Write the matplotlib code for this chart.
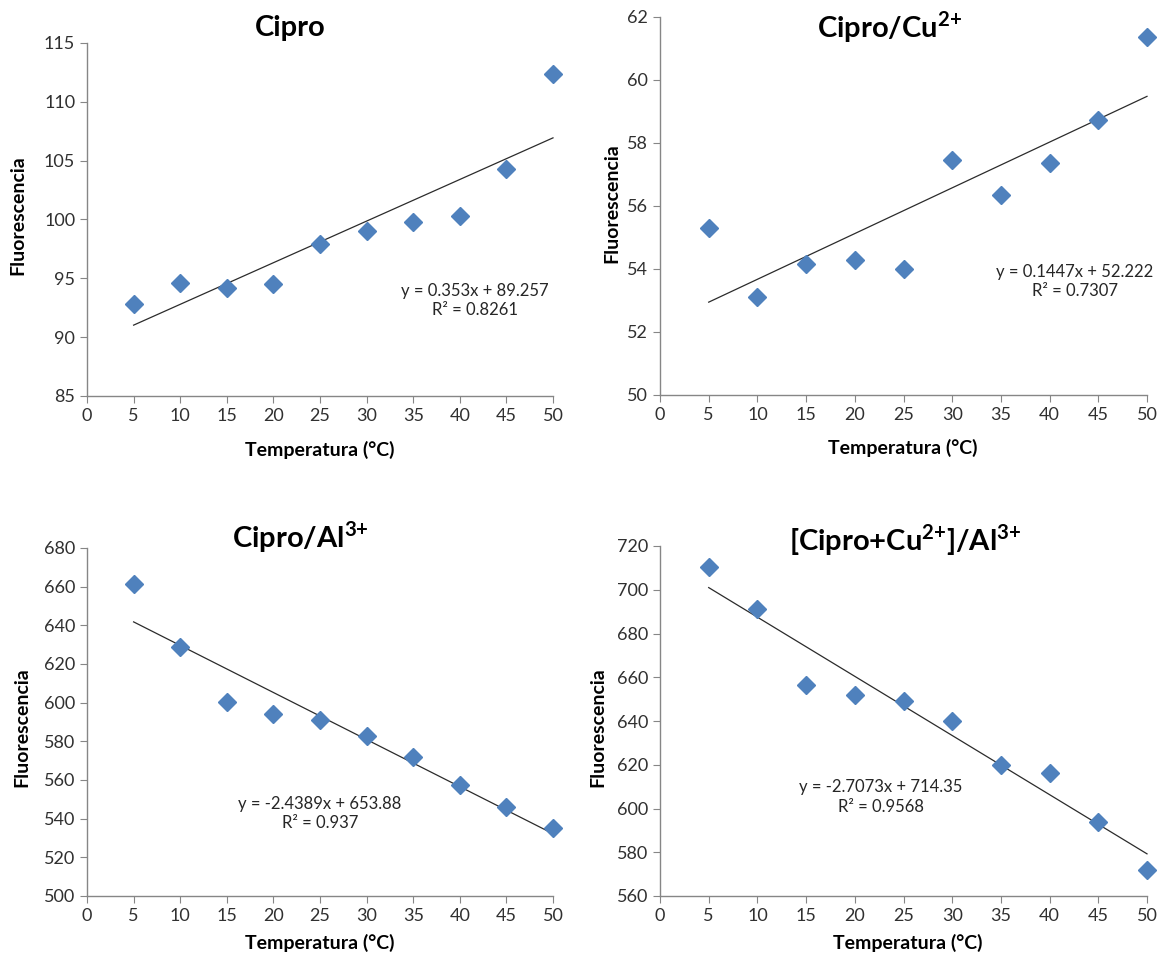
import matplotlib
matplotlib.use("Agg")
import matplotlib.pyplot as plt
import numpy as np

plt.rcParams['font.family'] = ['Lato', 'DejaVu Sans']
plt.rcParams['mathtext.fontset'] = 'custom'
plt.rcParams['mathtext.rm'] = 'Lato'
plt.rcParams['mathtext.bf'] = 'Lato:bold'

# temperature (°C)
temp = [5, 10, 15, 20, 25, 30, 35, 40, 45, 50]

# fluorescence for each sample
cipro = [92.8, 94.6, 94.2, 94.5, 97.9, 99.0, 99.8, 100.3, 104.3, 112.4]
cipro_cu = [55.3, 53.1, 54.15, 54.3, 54.0, 57.47, 56.35, 57.37, 58.72, 61.38]
cipro_al = [661.5, 629.0, 600.5, 594.3, 591.2, 583.0, 571.8, 557.5, 546.2, 535.0]
cipro_cu_al = [710.5, 691.0, 656.5, 652.0, 649.0, 640.0, 620.0, 616.3, 594.0, 572.0]

titles = ["Cipro", r"Cipro/Cu$^{\mathbf{2{+}}}$", r"Cipro/Al$^{\mathbf{3{+}}}$",
          r"[Cipro+Cu$^{\mathbf{2{+}}}$]/Al$^{\mathbf{3{+}}}$"]
equations = ["y = 0.353x + 89.257\nR² = 0.8261",
             "y = 0.1447x + 52.222\nR² = 0.7307",
             "y = -2.4389x + 653.88\nR² = 0.937",
             "y = -2.7073x + 714.35\nR² = 0.9568"]
y_ranges = [(85, 115, 5), (50, 62, 2), (500, 680, 20), (560, 720, 20)]

fig = plt.figure(figsize=(11.6, 9.6), dpi=100)

# axes boxes in pixels: left, right, top, bottom
boxes = [(87, 553, 43, 396), (660, 1147, 17, 395),
         (87, 553, 548, 896), (660, 1147, 546, 896)]
title_pos = [(290, 28), (890, 27), (300, 537), (905, 540)]
eq_pos = [(0.833, 0.27), (0.852, 0.30), (0.50, 0.236), (0.454, 0.283)]
ylab_pos = [(-0.148, 0.513), (-0.099, 0.508), (-0.139, 0.486), (-0.127, 0.483)]
xlab_pos = [(0.5, -0.153), (0.499, -0.14), (0.5, -0.135), (0.508, -0.134)]

W, H = 1160, 960
series = [cipro, cipro_cu, cipro_al, cipro_cu_al]

for i, ys in enumerate(series):
    l, r, t, b = boxes[i]
    ax = fig.add_axes([l / W, 1 - b / H, (r - l) / W, (b - t) / H])
    x = np.array(temp)
    y = np.array(ys)
    ax.plot(x, y, 'D', color='#4F81BD', markersize=9.5, zorder=3, clip_on=False)
    m, c = np.polyfit(x, y, 1)
    xf = np.array([x.min(), x.max()])
    ax.plot(xf, m * xf + c, color='#2b2b2b', lw=0.9, zorder=2, clip_on=False)

    lo, hi, step = y_ranges[i]
    ax.set_xlim(0, 50)
    ax.set_ylim(lo, hi)
    ax.set_xticks(np.arange(0, 51, 5))
    ax.set_yticks(np.arange(lo, hi + step / 2, step))
    for s in ['top', 'right']:
        ax.spines[s].set_visible(False)
    for s in ['left', 'bottom']:
        ax.spines[s].set_color('#868686')
        ax.spines[s].set_linewidth(1.0)
    ax.tick_params(direction='out', length=5, color='#868686',
                   labelcolor='#303030', labelsize=13)

    ax.set_xlabel("Temperatura (°C)", fontsize=14, fontweight='bold')
    ax.set_ylabel("Fluorescencia", fontsize=14, fontweight='bold')
    ax.xaxis.set_label_coords(*xlab_pos[i])
    ax.yaxis.set_label_coords(*ylab_pos[i])
    ax.xaxis.label.set_va('center')
    ax.yaxis.label.set_va('center')

    ax.text(eq_pos[i][0], eq_pos[i][1], equations[i], transform=ax.transAxes,
            ha='center', va='center', fontsize=12, color='#262626',
            linespacing=1.25)

    tx, ty = title_pos[i]
    fig.text(tx / W, 1 - ty / H, titles[i], ha='center', va='center',
             fontsize=21, fontweight='bold')

fig.savefig("out.png", dpi=100, facecolor='white')
